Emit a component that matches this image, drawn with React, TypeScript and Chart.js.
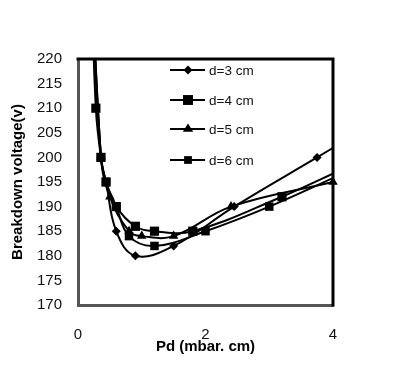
import React, { useEffect, useRef } from 'react';
import { Chart, registerables } from 'chart.js';

Chart.register(...registerables);

// Pd (mbar.cm) and breakdown voltage (V)
const pd3 = [0.2, 0.36, 0.44, 0.6, 0.9, 1.5, 2.45, 3.75, 4.1];
const v3 = [240, 200, 195, 185, 180, 182, 190, 200, 202.7];

const pd4 = [0.2, 0.28, 0.36, 0.44, 0.6, 0.9, 1.2, 1.8, 3.2, 4.1];
const v4 = [240, 210, 200, 195, 190, 186, 185, 185, 192, 197.3];

const pd5 = [0.2, 0.36, 0.5, 0.8, 1.0, 1.5, 2.4, 4.0];
const v5 = [240, 200, 192, 185, 184, 184, 190, 195];

const pd6 = [0.2, 0.36, 0.44, 0.6, 0.8, 1.2, 2.0, 3.0, 4.1];
const v6 = [240, 200, 195, 190, 184, 182, 185, 190, 196.4];

const seriesLabels = ['d=3 cm', 'd=4 cm', 'd=5 cm', 'd=6 cm'];
const yTicks = [170, 175, 180, 185, 190, 195, 200, 205, 210, 215, 220];
const xTicks = [0, 2, 4];

const FONT = "'Liberation Sans', Arial, sans-serif";

function toPts(xs: number[], ys: number[]) {
  return xs.map((x, i) => ({ x, y: ys[i] }));
}

function drawMarker(ctx: CanvasRenderingContext2D, style: string, x: number, y: number, r: number) {
  ctx.beginPath();
  if (style === 'rectRot') {
    ctx.moveTo(x, y - r);
    ctx.lineTo(x + r, y);
    ctx.lineTo(x, y + r);
    ctx.lineTo(x - r, y);
    ctx.closePath();
  } else if (style === 'rect') {
    const s = r * Math.SQRT1_2;
    ctx.rect(x - s, y - s, 2 * s, 2 * s);
  } else if (style === 'triangle') {
    const h = r * 1.5;
    ctx.moveTo(x, y - r);
    ctx.lineTo(x + r * 0.95, y + h - r);
    ctx.lineTo(x - r * 0.95, y + h - r);
    ctx.closePath();
  }
  ctx.fill();
}

const frameAndLegend = {
  id: 'frameAndLegend',
  afterDatasetsDraw(chart: any) {
    const { ctx, chartArea } = chart;
    ctx.save();
    // top & right frame
    ctx.strokeStyle = '#000';
    ctx.lineWidth = 3;
    ctx.beginPath();
    ctx.moveTo(chartArea.left - 1.5, chartArea.top);
    ctx.lineTo(chartArea.right, chartArea.top);
    ctx.lineTo(chartArea.right, chartArea.bottom + 1.5);
    ctx.stroke();

    // legend inside the plot
    const styles = ['rectRot', 'rect', 'triangle', 'rect'];
    const radii = [4.5, 7, 5.5, 5.5];
    const rowsY = [70, 100, 129, 160];
    ctx.font = `13.5px ${FONT}`;
    ctx.textBaseline = 'middle';
    ctx.textAlign = 'left';
    seriesLabels.forEach((lab, i) => {
      const y = rowsY[i];
      ctx.strokeStyle = '#000';
      ctx.lineWidth = 2;
      ctx.beginPath();
      ctx.moveTo(170, y);
      ctx.lineTo(205, y);
      ctx.stroke();
      ctx.fillStyle = '#000';
      drawMarker(ctx, styles[i], 188, y, radii[i]);
      ctx.fillStyle = '#111';
      ctx.fillText(lab, 209, y + 1);
    });
    ctx.restore();
  },
};

export default function App() {
  const ref = useRef<HTMLCanvasElement>(null);

  useEffect(() => {
    if (!ref.current) return;
    const common = {
      borderColor: '#000',
      backgroundColor: '#000',
      pointBackgroundColor: '#000',
      pointBorderColor: '#000',
      borderWidth: 2,
      tension: 0.4,
      pointBorderWidth: 0,
    };
    const chart = new Chart(ref.current, {
      type: 'line',
      data: {
        datasets: [
          { ...common, label: seriesLabels[0], data: toPts(pd3, v3), pointStyle: 'rectRot', pointRadius: 4.5 },
          { ...common, label: seriesLabels[1], data: toPts(pd4, v4), pointStyle: 'rect', pointRadius: 6.5 },
          { ...common, label: seriesLabels[2], data: toPts(pd5, v5), pointStyle: 'triangle', pointRadius: 5.5, clip: { left: 0, top: 0, right: 8, bottom: 0 } },
          { ...common, label: seriesLabels[3], data: toPts(pd6, v6), pointStyle: 'rect', pointRadius: 6 },
        ] as any,
      },
      options: {
        animation: false,
        responsive: false,
        maintainAspectRatio: false,
        layout: { padding: { top: 59, right: 78, left: 0, bottom: 0 } },
        plugins: { legend: { display: false }, tooltip: { enabled: false } },
        scales: {
          x: {
            type: 'linear',
            min: 0,
            max: 4,
            afterBuildTicks: (s: any) => { s.ticks = xTicks.map((v) => ({ value: v })); },
            afterFit: (s: any) => { s.height = 62; },
            grid: { display: false },
            border: { display: true, color: '#555', width: 3 },
            ticks: { color: '#111', font: { family: FONT, size: 15 }, padding: 13, maxRotation: 0 },
            title: {
              display: true,
              text: 'Pd (mbar. cm)',
              color: '#000',
              font: { family: FONT, size: 15, weight: 'bold' },
              padding: { top: 0, bottom: 11 },
            },
          },
          y: {
            type: 'linear',
            min: 170,
            max: 220,
            afterBuildTicks: (s: any) => { s.ticks = yTicks.map((v) => ({ value: v })); },
            afterFit: (s: any) => { s.width = 78; },
            grid: { display: false },
            border: { display: true, color: '#555', width: 3 },
            ticks: { color: '#111', font: { family: FONT, size: 15 }, padding: 8 },
            title: {
              display: true,
              text: 'Breakdown voltage(v)',
              color: '#000',
              font: { family: FONT, size: 15, weight: 'bold' },
              padding: { top: 9, bottom: 0 },
            },
          },
        },
      } as any,
      plugins: [frameAndLegend],
    });
    return () => chart.destroy();
  }, []);

  return (
    <div style={{ position: 'fixed', left: 0, top: 0, width: 411, height: 367, background: '#fff' }}>
      <canvas ref={ref} width={411} height={367} style={{ width: 411, height: 367, display: 'block' }} />
    </div>
  );
}
